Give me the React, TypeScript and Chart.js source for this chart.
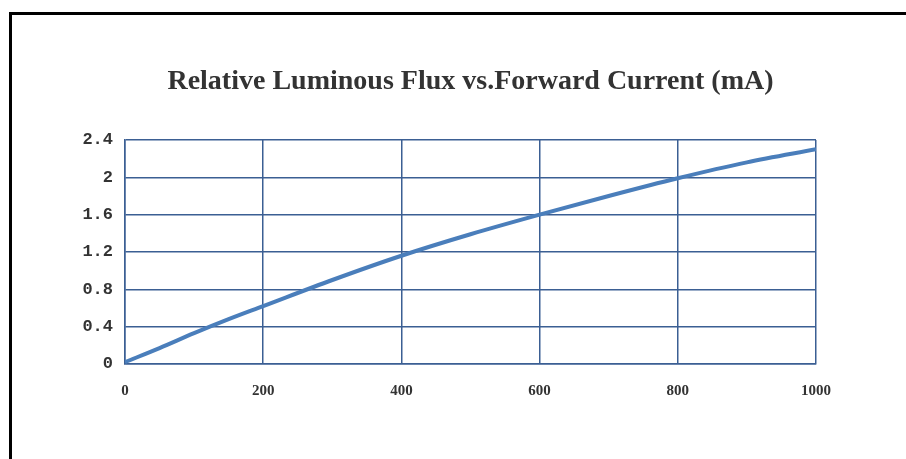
import React, { useEffect, useRef } from "react";
import { Chart, registerables } from "chart.js";

Chart.register(...registerables);

const currentMA = [0, 50, 100, 150, 200, 300, 400, 500, 600, 700, 800, 900, 1000];
const relativeFlux = [0.02, 0.17, 0.33, 0.48, 0.62, 0.9, 1.16, 1.39, 1.6, 1.8, 1.99, 2.16, 2.3];
const xTicks = [0, 200, 400, 600, 800, 1000];
const yTicks = [0, 0.4, 0.8, 1.2, 1.6, 2, 2.4];
const titleText = "Relative Luminous Flux vs.Forward Current (mA)";

const GRID = "#3b5f93";

const titlePlugin = {
  id: "centeredTitle",
  afterDraw(chart: any) {
    const { ctx, chartArea } = chart;
    ctx.save();
    ctx.font = "bold 28px 'Liberation Serif'";
    ctx.fillStyle = "#333333";
    ctx.textAlign = "center";
    ctx.textBaseline = "alphabetic";
    ctx.fillText(titleText, (chartArea.left + chartArea.right) / 2, 89);
    ctx.restore();
  },
};

export default function App() {
  const ref = useRef<HTMLCanvasElement>(null);
  useEffect(() => {
    const chart = new Chart(ref.current as HTMLCanvasElement, {
      type: "line",
      data: {
        datasets: [
          {
            data: currentMA.map((x, i) => ({ x, y: relativeFlux[i] })),
            borderColor: "#4a7ebb",
            borderWidth: 4,
            pointRadius: 0,
            cubicInterpolationMode: "monotone",
            fill: false,
          },
        ],
      },
      options: {
        animation: false,
        responsive: false,
        maintainAspectRatio: false,
        layout: { padding: { top: 140, right: 90, left: 0, bottom: 0 } },
        plugins: { legend: { display: false }, tooltip: { enabled: false }, title: { display: false } },
        scales: {
          x: {
            type: "linear",
            min: 0,
            max: 1000,
            afterBuildTicks: (s: any) => {
              s.ticks = xTicks.map((v) => ({ value: v }));
            },
            afterFit: (s: any) => {
              s.height = 95;
            },
            grid: { color: GRID, lineWidth: 1.5, drawTicks: false },
            border: { color: GRID, width: 1.5 },
            ticks: {
              padding: 18,
              color: "#333333",
              font: { family: "'Liberation Serif'", weight: "bold", size: 15 },
              callback: (v: any) => String(v),
            },
          },
          y: {
            type: "linear",
            min: 0,
            max: 2.4,
            afterBuildTicks: (s: any) => {
              s.ticks = yTicks.map((v) => ({ value: v }));
            },
            afterFit: (s: any) => {
              s.width = 125;
            },
            grid: { color: GRID, lineWidth: 1.5, drawTicks: false },
            border: { color: GRID, width: 1.5 },
            ticks: {
              padding: 12,
              color: "#333333",
              font: { family: "'Liberation Mono'", weight: "bold", size: 17 },
              callback: (v: any) => String(Math.round(Number(v) * 10) / 10),
            },
          },
        },
      },
      plugins: [titlePlugin],
    } as any);
    return () => chart.destroy();
  }, []);

  return (
    <div style={{ position: "fixed", left: 0, top: 0, width: 906, height: 459, overflow: "hidden", background: "#fff" }}>
      <div
        style={{
          position: "absolute",
          left: 9,
          top: 12,
          width: 1200,
          height: 1200,
          borderLeft: "3px solid #000",
          borderTop: "3px solid #000",
        }}
      />
      <canvas ref={ref} width={906} height={459} style={{ position: "absolute", left: 0, top: 0 }} />
    </div>
  );
}
